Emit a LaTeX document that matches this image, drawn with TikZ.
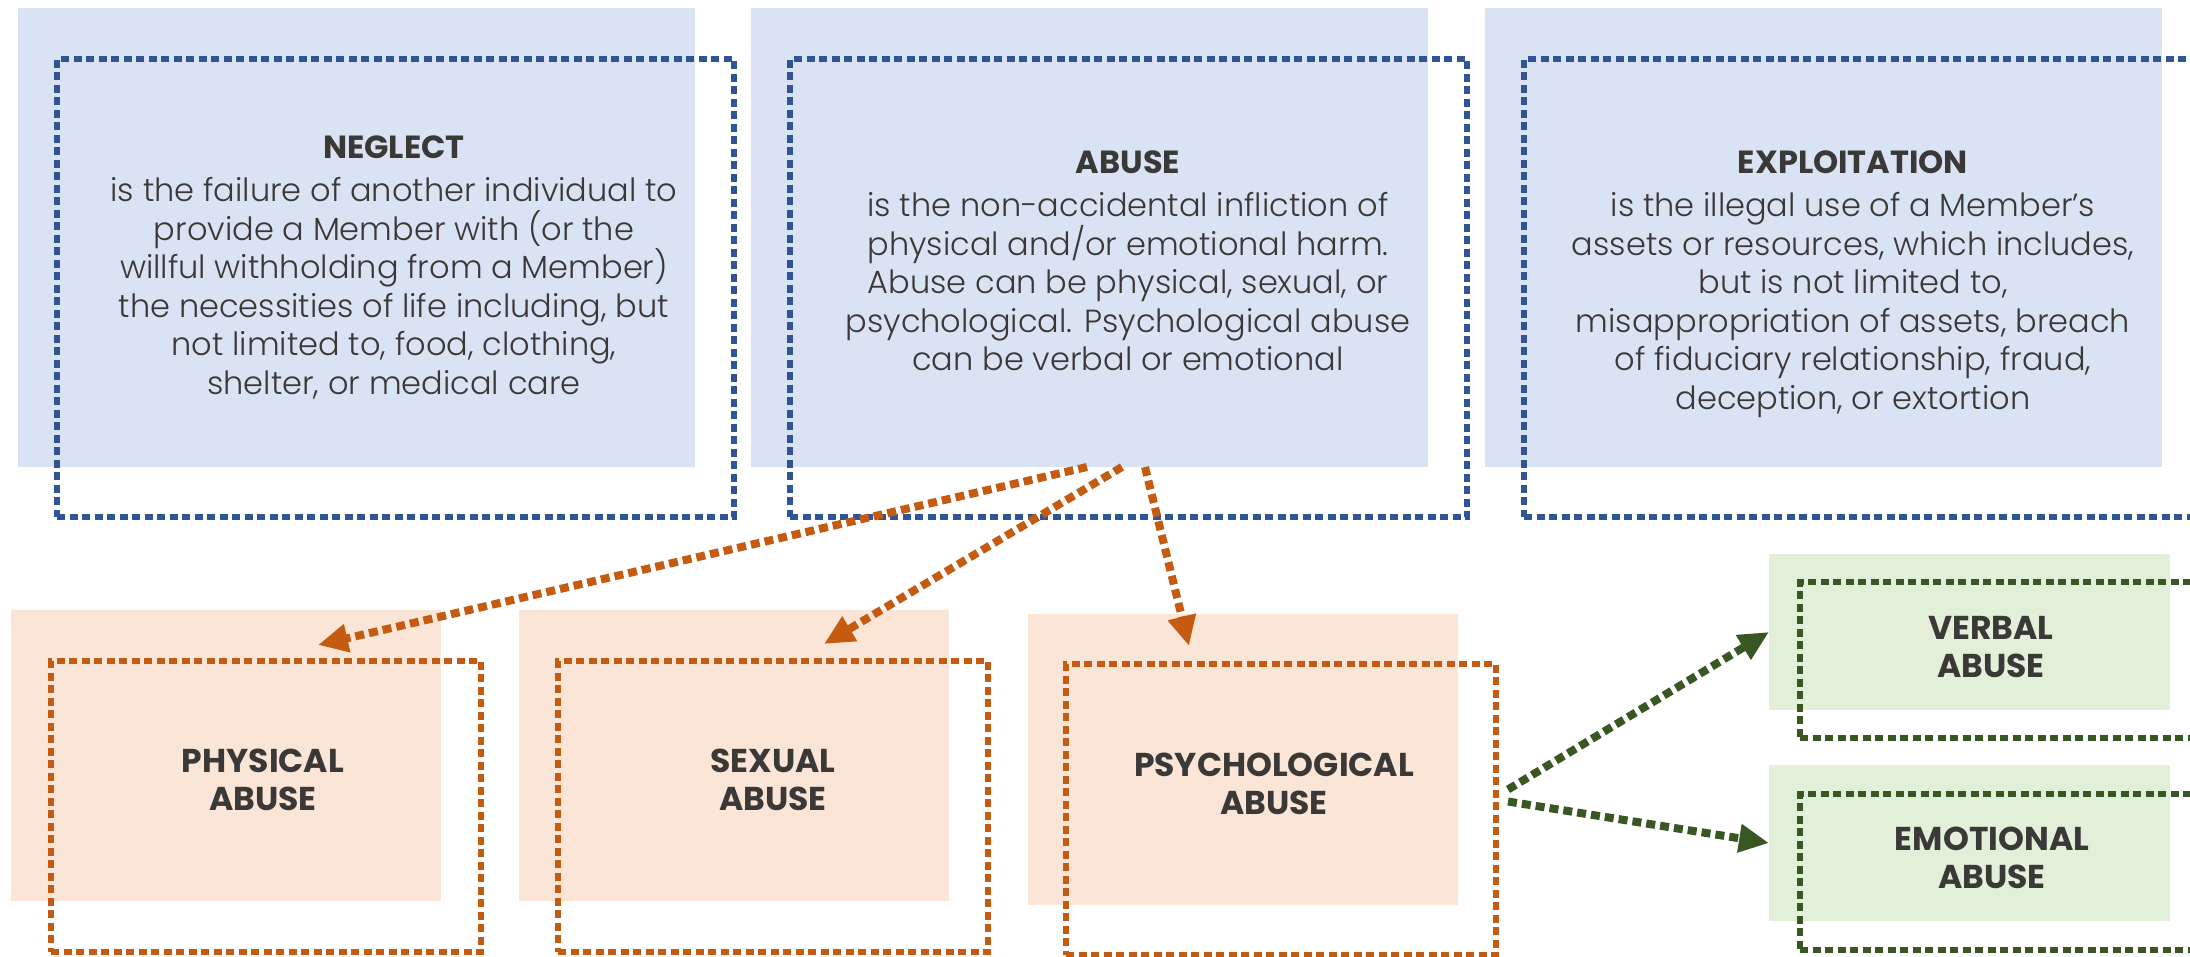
\documentclass[tikz,border=0pt]{standalone}
\usepackage{fontspec}
\IfFontExistsTF{Poppins Light}{%
  \setmainfont{Poppins Light}[BoldFont={Poppins Bold}]%
}{\setmainfont{Poppins}}
\usetikzlibrary{arrows.meta}
\definecolor{bfillc}{HTML}{DAE3F3}
\definecolor{blinec}{HTML}{2F5597}
\definecolor{ofillc}{HTML}{FBE5D6}
\definecolor{olinec}{HTML}{C55A11}
\definecolor{gfillc}{HTML}{E2F0D9}
\definecolor{glinec}{HTML}{385723}
\definecolor{txtc}{HTML}{3B3838}
\tikzset{
  box/.style={rectangle, inner sep=0pt, outer sep=0pt, anchor=north west},
  dotline/.style={line width=5.5pt, dash pattern=on 8pt off 4.5pt},
  bfill/.style={box, fill=bfillc, minimum width=677pt, minimum height=459pt},
  bdot/.style={box, draw=blinec, dotline, minimum width=677pt, minimum height=458pt},
  ofill/.style={box, fill=ofillc, minimum width=430pt, minimum height=291pt},
  odot/.style={box, draw=olinec, dotline, minimum width=430pt, minimum height=291pt},
  gfill/.style={box, fill=gfillc, minimum width=401pt, minimum height=156pt},
  gdot/.style={box, draw=glinec, dotline, minimum width=430pt, minimum height=156pt},
  txt/.style={inner sep=0pt, align=center, text=txtc, font=\fontsize{32}{38.5}\selectfont},
  lbl/.style={inner sep=0pt, align=center, text=txtc, font=\bfseries\fontsize{33}{38}\selectfont},
  oarrow/.style={draw=olinec, line width=8pt, dash pattern=on 9pt off 5pt, -{Triangle[length=30pt,width=27pt]}},
  garrow/.style={draw=glinec, line width=8pt, dash pattern=on 9pt off 5pt, -{Triangle[length=30pt,width=27pt]}},
}
\begin{document}
\begin{tikzpicture}[x=1pt,y=-1pt]
\clip (0,0) rectangle (2190,956);
\fill[white] (0,0) rectangle (2190,956);
% top row
\node[bfill] (negF) at (18,8) {};
\node[bdot] (negD) at (57,59) {};
\node[bfill] (abuF) at (751,8) {};
\node[bdot] (abuD) at (790,59) {};
\node[bfill] (expF) at (1485,8) {};
\node[bdot] (expD) at (1524,59) {};
\node[txt, anchor=north] (negT) at (394,136) {\textbf{NEGLECT}\\[4.5pt]is the failure of another individual to\\provide a Member with (or the\\willful withholding from a Member)\\the necessities of life including, but\\not limited to, food, clothing,\\shelter, or medical care};
\node[txt, anchor=north] (abuT) at (1128,151) {\textbf{ABUSE}\\[4.5pt]is the non-accidental infliction of\\physical and/or emotional harm.\\Abuse can be physical, sexual, or\\psychological. Psychological abuse\\can be verbal or emotional};
\node[txt, anchor=north] (expT) at (1853,151) {\textbf{EXPLOITATION}\\[4.5pt]is the illegal use of a Member’s\\assets or resources, which includes,\\but is not limited to,\\misappropriation of assets, breach\\of fiduciary relationship, fraud,\\deception, or extortion};
% bottom row
\node[ofill] (phyF) at (11,610) {};
\node[odot] (phyD) at (51,661) {};
\node[ofill] (sexF) at (519,610) {};
\node[odot] (sexD) at (558,661) {};
\node[ofill] (psyF) at (1028,614) {};
\node[odot] (psyD) at (1066,664) {};
\node[gfill] (verF) at (1769,554) {};
\node[gdot] (verD) at (1800,582) {};
\node[gfill] (emoF) at (1769,765) {};
\node[gdot] (emoD) at (1800,794) {};
\node[lbl] (phyT) at (263,780) {PHYSICAL\\ABUSE};
\node[lbl] (sexT) at (773,780) {SEXUAL\\ABUSE};
\node[lbl] (psyT) at (1274,784) {PSYCHOLOGICAL\\ABUSE};
\node[lbl] (verT) at (1991,647) {VERBAL\\ABUSE};
\node[lbl] (emoT) at (1992,858) {EMOTIONAL\\ABUSE};
% connectors
\draw[oarrow] ([xshift=336pt]abuF.south west) -- ([xshift=267pt,yshift=16pt]phyD.north west);
\draw[oarrow] ([xshift=371pt]abuF.south west) -- ([xshift=266pt,yshift=17pt]sexD.north west);
\draw[oarrow] ([xshift=394pt]abuF.south west) -- ([xshift=123pt,yshift=18pt]psyD.north west);
\draw[garrow] ([xshift=12pt,yshift=20pt]psyD.east) -- (verF.west);
\draw[garrow] ([xshift=12pt,yshift=8pt]psyD.east) -- (emoF.west);
\end{tikzpicture}
\end{document}
